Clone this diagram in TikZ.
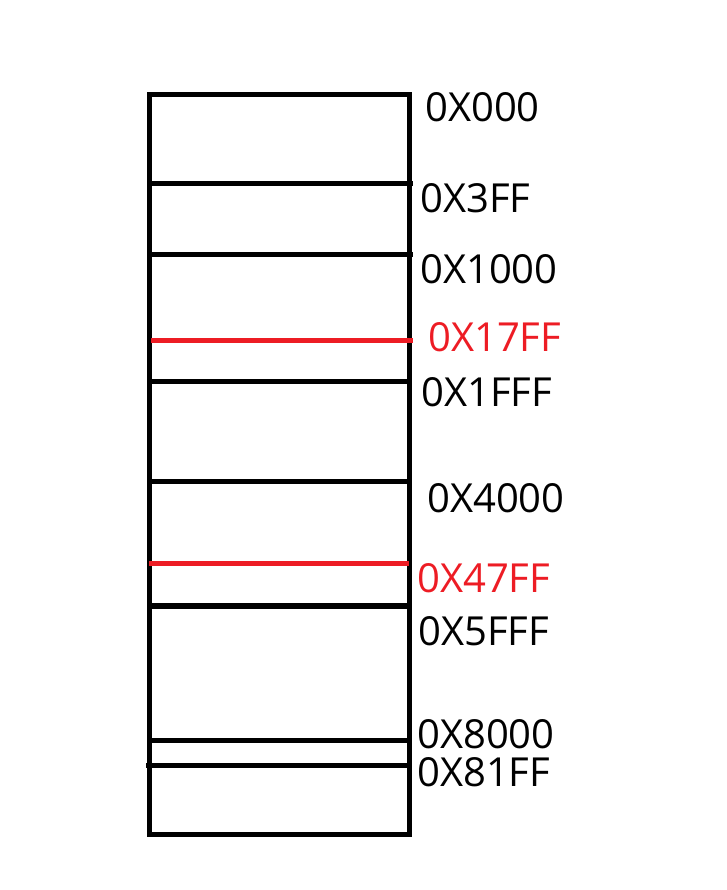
\documentclass[tikz,border=0pt]{standalone}
\usepackage{fontspec}
\setmainfont{Open Sans}
\usepackage{xcolor}
\usepackage{tikz}
\definecolor{PaintRed}{HTML}{ED1C24}

\begin{document}
\begin{tikzpicture}[
  x=1pt, y=-1pt,
  wall/.style={draw=black, line width=5pt},
  cut/.style={draw=PaintRed, line width=5pt},
  addr/.style={anchor=west, inner sep=0pt, font=\fontsize{40}{40}\selectfont},
  addrred/.style={addr, text=PaintRed}
]
  \useasboundingbox (0,0) rectangle (726,890);

  % the memory block
  \draw[wall] (149,95) rectangle (409,834);

  % region borders
  \foreach \y/\xa/\xb in {184/149/413, 255/149/413, 381/149/409,
                          481/149/409, 740/149/409, 765/146/409}
    \draw[wall] (\xa,\y) -- (\xb,\y);
  \draw[wall, line width=6pt] (149,606) -- (409,606);

  % red marks
  \draw[cut] (151,340) -- (413,340);
  \draw[cut] (149,563) -- (409,563);

  % addresses
  \node[addr]    (a000)  at (425,107) {0X000};
  \node[addr]    (a3ff)  at (420,198) {0X3FF};
  \node[addr]    (a1000) at (420,269) {0X1000};
  \node[addrred] (a17ff) at (428,337) {0X17FF};
  \node[addr]    (a1fff) at (421,392) {0X1FFF};
  \node[addr]    (a4000) at (427,498) {0X4000};
  \node[addrred] (a47ff) at (417,578) {0X47FF};
  \node[addr]    (a5fff) at (418,631) {0X5FFF};
  \node[addr]    (a8000) at (417,734) {0X8000};
  \node[addr]    (a81ff) at (417,772) {0X81FF};
\end{tikzpicture}
\end{document}
